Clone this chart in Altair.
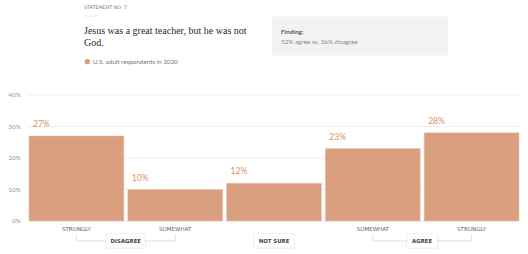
import altair as alt
import pandas as pd

# ---- data ----
categories = ["Strongly disagree", "Somewhat disagree", "Not sure", "Somewhat agree", "Strongly agree"]
tick_labels = ["STRONGLY", "SOMEWHAT", "", "SOMEWHAT", "STRONGLY"]
values = [27, 10, 12, 23, 28]
value_labels = ["27%", "10%", "12%", "23%", "28%"]
y_ticks = [0, 10, 20, 30, 40]
y_tick_labels = ["0%", "10%", "20%", "30%", "40%"]

group_names = ["DISAGREE", "NOT SURE", "AGREE"]
group_first = ["Strongly disagree", "Not sure", "Somewhat agree"]
group_last = ["Somewhat disagree", "Not sure", "Strongly agree"]
group_box_w = [38, 39, 30]

statement_no = "STATEMENT NO. 7"
title_lines = ["Jesus was a great teacher, but he was not", "God."]
legend_label = "U.S. adult respondents in 2020"
finding_head = "Finding:"
finding_text = "52% agree vs. 36% disagree"

BAR = "#d99f7e"
LABEL = "#dc9166"
W, H = 490, 126
STEP = W / (5 - 0.04)
CAPS_FONT = "DejaVu Sans"

df = pd.DataFrame({"cat": categories, "val": values, "lab": value_labels, "tick": tick_labels})
ydf = pd.DataFrame({"v": y_ticks, "t": y_tick_labels})

xscale = alt.Scale(domain=categories, paddingInner=0.04, paddingOuter=0)
yscale = alt.Scale(domain=[0, 40], nice=False)
X = alt.X("cat:N", scale=xscale, axis=None, sort=categories)

grid = alt.Chart(ydf).mark_rule(color="#ececec", strokeWidth=0.8).encode(
    y=alt.Y("v:Q", scale=yscale, axis=None), x=alt.value(-1.5), x2=alt.value(491))
ylab = alt.Chart(ydf).mark_text(align="right", baseline="middle", fontSize=6.5,
                                font="Lato", color="#9a9a9a").encode(
    y=alt.Y("v:Q", scale=yscale, axis=None), x=alt.value(-8), text="t:N")

bars = alt.Chart(df).mark_bar(color=BAR, stroke="#e8c3ad", strokeWidth=0.5).encode(
    x=X, y=alt.Y("val:Q", scale=yscale, axis=None))

vlabels = alt.Chart(df).mark_text(align="left", baseline="middle", dx=4, dy=-12,
                                  fontSize=8.5, font="Lato", color=LABEL).encode(
    x=alt.X("cat:N", scale=xscale, axis=None, sort=categories, bandPosition=0),
    y=alt.Y("val:Q", scale=yscale, axis=None),
    text="lab:N",
)

ticks = alt.Chart(df).mark_text(baseline="middle", fontSize=5.5, font=CAPS_FONT,
                                color="#606060").encode(
    x=X, y=alt.value(133.5), text="tick:N",
)

layers = [grid, ylab, bars, vlabels, ticks]

# group brackets and boxes
for name, first, last, bw in zip(group_names, group_first, group_last, group_box_w):
    gd = pd.DataFrame({"first": [first], "last": [last], "name": [name]})
    n = categories.index(last) - categories.index(first)
    if n > 0:
        layers.append(alt.Chart(gd).mark_rule(color="#d8d8d8", strokeWidth=0.8).encode(
            x=alt.X("first:N", scale=xscale, axis=None, sort=categories),
            x2="last:N", y=alt.value(146)))
        for col in ["first", "last"]:
            layers.append(alt.Chart(gd).mark_rule(color="#d8d8d8", strokeWidth=0.8).encode(
                x=alt.X(f"{col}:N", scale=xscale, axis=None, sort=categories),
                y=alt.value(139), y2=alt.value(146)))
    shift = n * STEP / 2
    layers.append(alt.Chart(gd).mark_bar(width=bw + 3, color="#000000", opacity=0.05,
                                         xOffset=shift, cornerRadius=1.5).encode(
        x=alt.X("first:N", scale=xscale, axis=None, sort=categories),
        y=alt.value(138), y2=alt.value(154)))
    layers.append(alt.Chart(gd).mark_bar(width=bw, color="#ffffff", xOffset=shift).encode(
        x=alt.X("first:N", scale=xscale, axis=None, sort=categories),
        y=alt.value(139), y2=alt.value(152.5)))
    layers.append(alt.Chart(gd).mark_text(baseline="middle", fontSize=5.4, font=CAPS_FONT,
                                          fontWeight="bold", color="#444444", dx=shift).encode(
        x=alt.X("first:N", scale=xscale, axis=None, sort=categories),
        y=alt.value(145.8), text="name:N"))

# header
hdr = pd.DataFrame({"t": [statement_no]})
layers.append(alt.Chart(hdr).mark_text(align="left", baseline="middle", fontSize=4.8,
                                        font=CAPS_FONT, color="#777777").encode(
    x=alt.value(55), y=alt.value(-87), text="t:N"))
layers.append(alt.Chart(hdr).mark_rule(color="#e2e2e2", strokeWidth=0.8).encode(
    x=alt.value(55), x2=alt.value(70), y=alt.value(-79)))

for i, line in enumerate(title_lines):
    layers.append(alt.Chart(pd.DataFrame({"t": [line]})).mark_text(
        align="left", baseline="middle", fontSize=10, font="Liberation Serif",
        color="#2a2a2a").encode(
        x=alt.value(55), y=alt.value(-64 + 12 * i), text="t:N"))

leg = pd.DataFrame({"t": [legend_label]})
layers.append(alt.Chart(leg).mark_point(filled=True, size=28, color=BAR, opacity=1).encode(
    x=alt.value(58.3), y=alt.value(-33.3)))
layers.append(alt.Chart(leg).mark_text(align="left", baseline="middle", fontSize=6.3,
                                        font="Lato", color="#777777").encode(
    x=alt.value(64), y=alt.value(-33), text="t:N"))

fb = pd.DataFrame({"h": [finding_head], "t": [finding_text]})
layers.append(alt.Chart(fb).mark_rect(color="#f2f2f2").encode(
    x=alt.value(243), x2=alt.value(419), y=alt.value(-78.5), y2=alt.value(-39.5)))
layers.append(alt.Chart(fb).mark_text(align="left", baseline="middle", fontSize=6.3,
                                       font="Lato", fontWeight="bold", color="#555555").encode(
    x=alt.value(252), y=alt.value(-63.3), text="h:N"))
layers.append(alt.Chart(fb).mark_text(align="left", baseline="middle", fontSize=6.3,
                                       font="Lato", color="#8a8a8a").encode(
    x=alt.value(252), y=alt.value(-53.3), text="t:N"))

chart = alt.layer(*layers).properties(
    width=W, height=H,
    padding={"left": 29, "top": 95, "right": 9, "bottom": 33},
    autosize=alt.AutoSizeParams(type="none"),
    background="#ffffff",
).configure_view(stroke=None)

chart.save("out.html", embed_options={"renderer": "svg", "actions": False})
